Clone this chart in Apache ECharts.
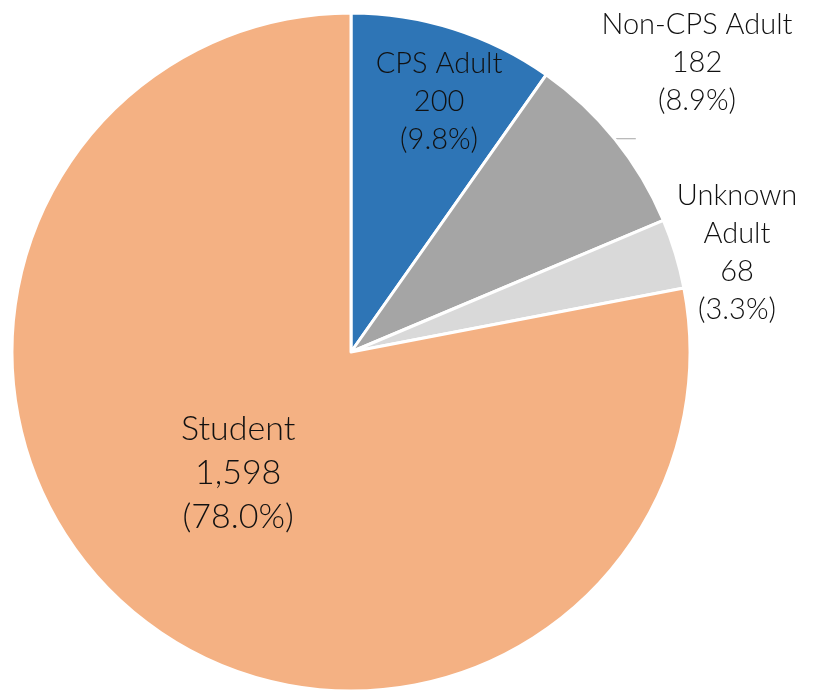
<!DOCTYPE html>
<html><head><meta charset="utf-8">
<script src="https://cdn.jsdelivr.net/npm/echarts@6/dist/echarts.min.js"></script>
<style>html,body{margin:0;padding:0;background:#fff}#c{width:817px;height:690px}</style>
</head><body><div id="c"></div>
<script>
const categories = ['CPS Adult', 'Non-CPS Adult', 'Unknown Adult', 'Student'];
const labelNames = ['CPS Adult', 'Non-CPS Adult', 'Unknown\nAdult', 'Student'];
const values = [200, 182, 68, 1598];
const colors = ['#2E75B6', '#A5A5A5', '#D9D9D9', '#F4B183'];

const total = values.reduce((a, b) => a + b, 0);
const fmtNum = v => v.toLocaleString('en-US');

const labelOffsets = [[36, -86], null, null, [-3, -12]];
const outsidePos = [null, [697, 63], [737, 253], null];

const chart = echarts.init(document.getElementById('c'), null, {renderer: 'canvas'});
chart.setOption({
  animation: false,
  backgroundColor: '#fff',
  series: [{
    type: 'pie',
    center: [351, 352],
    radius: 339,
    startAngle: 90,
    clockwise: true,
    avoidLabelOverlap: false,
    itemStyle: {borderColor: '#fff', borderWidth: 3},
    label: {
      fontFamily: 'Lato',
      fontWeight: 300,
      fontSize: 29,
      lineHeight: 38,
      color: '#111',
      align: 'center',
      formatter: p => labelNames[p.dataIndex] + '\n' + fmtNum(p.value) + '\n(' + (p.value / total * 100).toFixed(1) + '%)'
    },
    labelLine: {show: false},
    labelLayout: function (params) {
      const i = params.dataIndex;
      if (outsidePos[i]) {
        const r = {x: outsidePos[i][0], y: outsidePos[i][1], align: 'center', verticalAlign: 'middle'};
        if (params.labelLinePoints) r.labelLinePoints = params.labelLinePoints;
        return r;
      }
      return {dx: labelOffsets[i][0], dy: labelOffsets[i][1]};
    },
    data: categories.map((c, i) => {
      const d = {name: c, value: values[i], itemStyle: {color: colors[i]}};
      if (i === 0) {
        d.label = {position: 'inside'};
      } else if (i === 3) {
        d.label = {position: 'inside', fontSize: 34, lineHeight: 44};
      } else {
        d.label = {position: 'outside'};
        if (i === 1) d.labelLine = {show: true, length: 1, length2: 20, lineStyle: {color: '#A5A5A5', width: 1}};
      }
      return d;
    })
  }]
});
</script>
</body></html>
